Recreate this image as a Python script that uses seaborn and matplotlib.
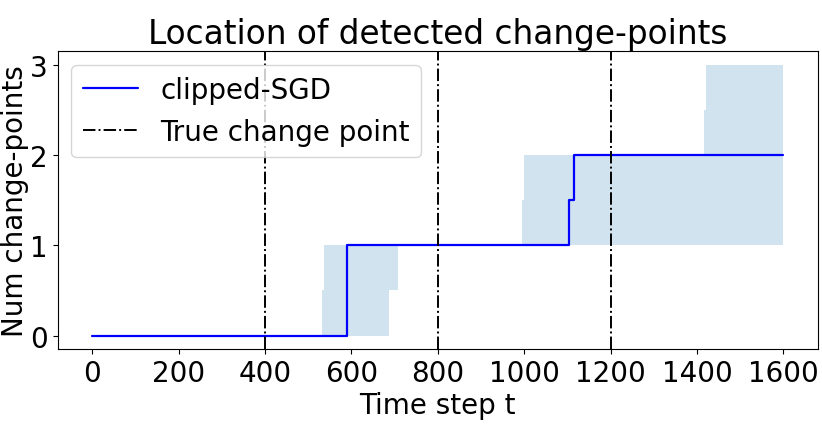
#%% import libraries
import numpy as np
import pandas as pd
import seaborn as sns
import matplotlib.pyplot as plt

#%% data (step breakpoints)
# median number of detected change-points
median_t = [0, 590, 1105, 1115, 1600]
median_v = [0, 1, 1.5, 2, 2]

# quantile band
band_t = [0, 531, 536, 688, 707, 995, 999, 1416, 1420, 1600]
band_lo = [0, 0, 0, 0.5, 1, 1, 1, 1, 1, 1]
band_hi = [0, 0.5, 1, 1, 1, 1.5, 2, 2.5, 3, 3]

true_cps = [400, 800, 1200]
xticks = [0, 200, 400, 600, 800, 1000, 1200, 1400, 1600]
yticks = [0, 1, 2, 3]

#%% plot setup
sns.set_style("ticks", {'axes.edgecolor': 'black', 'text.color': 'black',
                        'axes.labelcolor': 'black', 'xtick.color': 'black',
                        'ytick.color': 'black'})
plt.rcParams.update({'font.size': 20, 'axes.labelsize': 20,
                     'xtick.labelsize': 20, 'ytick.labelsize': 20,
                     'legend.fontsize': 20, 'axes.titlesize': 23.6,
                     'axes.linewidth': 0.8})
plt.rcParams['font.family'] = ['DejaVu Sans']

df = pd.DataFrame({'t': median_t, 'n': median_v})

fig, ax = plt.subplots(figsize=(8.22, 4.27), dpi=100)
fig.subplots_adjust(left=0.07, right=0.995, top=0.878, bottom=0.18)

ax.fill_between(band_t, band_lo, band_hi, step='post', color='#1f77b4', alpha=0.2, linewidth=0)
sns.lineplot(data=df, x='t', y='n', drawstyle='steps-post', color='blue',
             linewidth=1.6, label='clipped-SGD', ax=ax)
for i, cp in enumerate(true_cps):
    ax.axvline(cp, color='black', linestyle='-.', linewidth=1.4,
               label='True change point' if i == 0 else None)

ax.set_xticks(xticks)
ax.set_yticks(yticks)
ax.set_xlabel('Time step t', labelpad=3)
ax.set_ylabel('Num change-points', labelpad=1)
ax.set_title('Location of detected change-points')
ax.legend(loc='upper left')

# save figure
fig.savefig('out.png', dpi=100)
